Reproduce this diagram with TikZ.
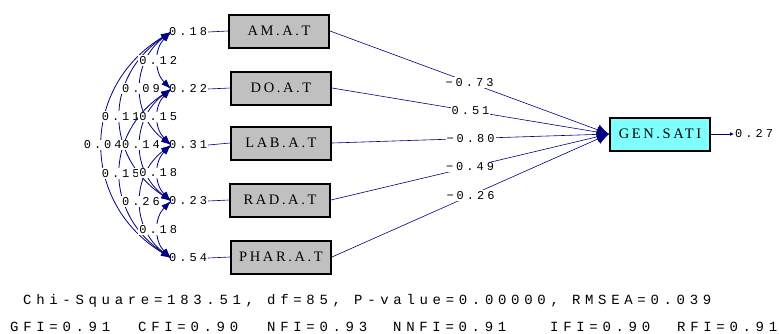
\documentclass[tikz,border=0pt]{standalone}
\usepackage{fontspec}
\setmainfont{Liberation Serif}
\newfontfamily\lisnum[LetterSpace=25]{Liberation Mono}
\newfontfamily\lismono[LetterSpace=33.5]{Liberation Mono}
\usetikzlibrary{arrows.meta}
\definecolor{lisblue}{RGB}{0, 0, 128}
\definecolor{boxgray}{RGB}{192, 192, 192}
\definecolor{boxcyan}{RGB}{128, 255, 255}

\begin{document}
\begin{tikzpicture}[x=1pt, y=-1pt,
  obs/.style={draw, line width=2pt, fill=boxgray, minimum width=100pt, minimum height=33pt,
    inner sep=0pt, font=\addfontfeatures{LetterSpace=18}\fontsize{14.5}{16}\selectfont},
  num/.style={font=\lisnum\fontsize{12}{13}\selectfont, inner sep=1pt},
  coef/.style={num, fill=white},
  path/.style={draw=lisblue, line width=0.6pt},
  cov/.style={draw=lisblue, line width=0.8pt,
    {Latex[length=10pt, width=7pt]}-{Latex[length=10pt, width=7pt]}},
  fit/.style={font=\lismono\fontsize{14}{16}\selectfont, inner sep=0pt, anchor=west}]

  \useasboundingbox (0,0) rectangle (779,333);

  \draw[]
   (279,31) node[obs](am) {AM.A.T}
   (281,88) node[obs](do) {DO.A.T}
   (281,143) node[obs](lab) {LAB.A.T}
   (280,200) node[obs](rad) {RAD.A.T}
   (281,257) node[obs](phar) {PHAR.A.T}
   (660,134) node[obs, fill=boxcyan](gen) {GEN.SATI};

  %error variances
  \draw[]
   (168,32) node[num, anchor=west](vam) {0.18}
   (168,89) node[num, anchor=west](vdo) {0.22}
   (168,145) node[num, anchor=west](vlab) {0.31}
   (168,201) node[num, anchor=west](vrad) {0.23}
   (168,258) node[num, anchor=west](vphar) {0.54}
   (734,134) node[num, anchor=west](vgen) {0.27};

  \draw[path] (vam.east) -- (am.west);
  \draw[path] (vdo.east) -- (do.west);
  \draw[path] (vlab.east) -- (lab.west);
  \draw[path] (vrad.east) -- (rad.west);
  \draw[path] (vphar.east) -- (phar.west);
  \draw[path, line width=1pt, -{Latex[length=4pt, width=4pt]}] (gen.east) -- (vgen.west);

  %covariances
  \draw[cov] ([xshift=3pt]vam.west) .. controls +(-91,55) and +(-91,-55) .. node[coef]{0.04} ([xshift=3pt]vphar.west);
  \draw[cov] ([xshift=3pt]vam.west) .. controls +(-67,45) and +(-67,-45) .. node[coef]{0.11} ([xshift=3pt]vrad.west);
  \draw[cov] ([xshift=3pt]vdo.west) .. controls +(-67,45) and +(-67,-45) .. node[coef]{0.15} ([xshift=3pt]vphar.west);
  \draw[cov] ([xshift=3pt]vam.west) .. controls +(-40,30) and +(-40,-30) .. node[coef]{0.09} ([xshift=3pt]vlab.west);
  \draw[cov] ([xshift=3pt]vdo.west) .. controls +(-40,30) and +(-40,-30) .. node[coef]{0.14} ([xshift=3pt]vrad.west);
  \draw[cov] ([xshift=3pt]vlab.west) .. controls +(-40,30) and +(-40,-30) .. node[coef]{0.26} ([xshift=3pt]vphar.west);
  \draw[cov] ([xshift=3pt]vam.west) .. controls +(-17,17) and +(-17,-17) .. node[coef]{0.12} ([xshift=3pt]vdo.west);
  \draw[cov] ([xshift=3pt]vdo.west) .. controls +(-17,17) and +(-17,-17) .. node[coef]{0.15} ([xshift=3pt]vlab.west);
  \draw[cov] ([xshift=3pt]vlab.west) .. controls +(-17,17) and +(-17,-17) .. node[coef]{0.18} ([xshift=3pt]vrad.west);
  \draw[cov] ([xshift=3pt]vrad.west) .. controls +(-17,17) and +(-17,-17) .. node[coef]{0.18} ([xshift=3pt]vphar.west);

  %paths
  \draw[path, -{Latex[length=12pt, width=11pt]}] (am.east) -- node[coef]{\char"2212 0.73} (gen.west);
  \draw[path, -{Latex[length=12pt, width=11pt]}] (do.east) -- node[coef]{0.51} (gen.west);
  \draw[path, -{Latex[length=12pt, width=11pt]}] (lab.east) -- node[coef]{\char"2212 0.80} (gen.west);
  \draw[path, -{Latex[length=12pt, width=11pt]}] (rad.east) -- node[coef]{\char"2212 0.49} (gen.west);
  \draw[path, -{Latex[length=12pt, width=11pt]}] (phar.east) -- node[coef]{\char"2212 0.26} (gen.west);

  %fit indices
  \draw[]
   (23,301) node[fit](chi) {Chi-Square=183.51, df=85, P-value=0.00000, RMSEA=0.039}
   (10,327) node[fit](gfi) {GFI=0.91}
   (138,327) node[fit](cfi) {CFI=0.90}
   (267,327) node[fit](nfi) {NFI=0.93}
   (393,327) node[fit](nnfi) {NNFI=0.91}
   (550,327) node[fit](ifi) {IFI=0.90}
   (677,327) node[fit](rfi) {RFI=0.91};
\end{tikzpicture}
\end{document}
